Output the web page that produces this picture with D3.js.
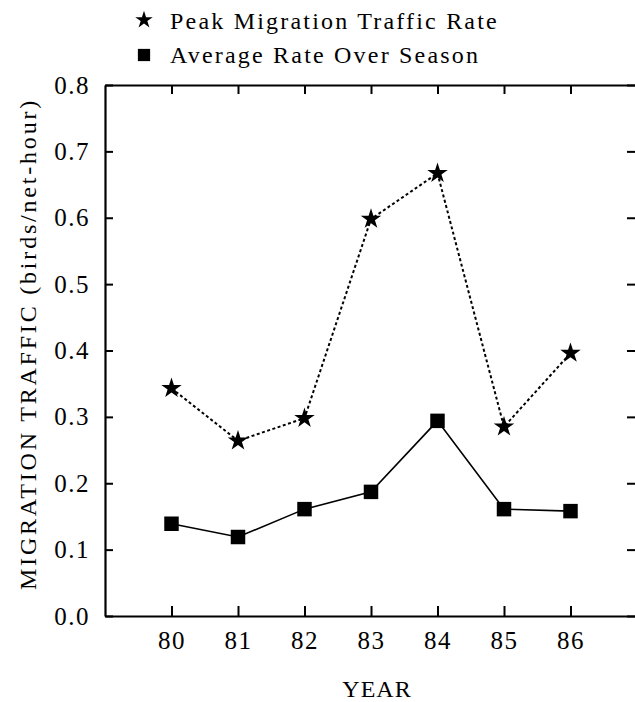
<!DOCTYPE html>
<html>
<head>
<meta charset="utf-8">
<script src="https://cdn.jsdelivr.net/npm/d3@7"></script>
<style>
  body { margin: 0; background: #fff; }
  text { font-family: "Liberation Serif", "DejaVu Serif", serif; fill: #000; }
</style>
</head>
<body>
<div id="chart"></div>
<script>
// chart data
var years = [80, 81, 82, 83, 84, 85, 86]
var peakRate = [0.343, 0.264, 0.298, 0.598, 0.667, 0.285, 0.396]
var avgRate = [0.139, 0.119, 0.161, 0.187, 0.294, 0.161, 0.158]
var yTicks = [0, 0.1, 0.2, 0.3, 0.4, 0.5, 0.6, 0.7, 0.8]
var legendLabels = ["Peak Migration Traffic Rate", "Average Rate Over Season"]

function migrationChart() {

    var width = 635
    var height = 702
    var m = { left: 105, right: 637, top: 85, bottom: 616 }

    var svg = d3.select("#chart")
        .append("svg")
        .attr("width", width)
        .attr("height", height)

    var x = d3.scaleLinear().domain([79, 87]).range([m.left, m.right])
    var y = d3.scaleLinear().domain([0, 0.8]).range([m.bottom, m.top])

    function styleAxis(g) {
        g.selectAll(".domain").attr("stroke", "#000").attr("stroke-width", 2.2)
        g.selectAll(".tick line").attr("stroke", "#000").attr("stroke-width", 2)
        g.selectAll(".tick text")
            .attr("font-size", 25)
            .attr("letter-spacing", 1.5)
            .attr("font-family", "Liberation Serif, serif")
            .attr("fill", "#000")
    }

    // frame: four axes with inward ticks
    svg.append("g")
        .attr("transform", "translate(0," + m.bottom + ")")
        .call(d3.axisBottom(x).tickValues(years).tickSizeInner(-10).tickSizeOuter(0).tickPadding(15).tickFormat(d3.format("d")))
        .call(styleAxis)

    svg.append("g")
        .attr("transform", "translate(0," + m.top + ")")
        .call(d3.axisTop(x).tickValues(years).tickSizeInner(-9).tickSizeOuter(0).tickFormat(""))
        .call(styleAxis)

    svg.append("g")
        .attr("transform", "translate(" + m.left + ",0)")
        .call(d3.axisLeft(y).tickValues(yTicks).tickSizeInner(-8).tickSizeOuter(0).tickPadding(15).tickFormat(d3.format(".1f")))
        .call(styleAxis)

    svg.append("g")
        .attr("transform", "translate(" + m.right + ",0)")
        .call(d3.axisRight(y).tickValues(yTicks).tickSizeInner(-10).tickSizeOuter(0).tickFormat(""))
        .call(styleAxis)

    // lines
    var line = d3.line().x((d, i) => x(years[i])).y(d => y(d))

    svg.append("path")
        .datum(peakRate)
        .attr("d", line)
        .attr("fill", "none")
        .attr("stroke", "#000")
        .attr("stroke-width", 2)
        .attr("stroke-dasharray", "3,2.5")

    svg.append("path")
        .datum(avgRate)
        .attr("d", line)
        .attr("fill", "none")
        .attr("stroke", "#000")
        .attr("stroke-width", 1.6)

    var star = d3.symbol().type(d3.symbolStar).size(130)
    var square = d3.symbol().type(d3.symbolSquare).size(210)

    svg.append("g")
        .selectAll("path")
        .data(peakRate)
        .join("path")
        .attr("d", star)
        .attr("transform", (d, i) => "translate(" + x(years[i]) + "," + y(d) + ")")
        .attr("fill", "#000")

    svg.append("g")
        .selectAll("path")
        .data(avgRate)
        .join("path")
        .attr("d", square)
        .attr("transform", (d, i) => "translate(" + x(years[i]) + "," + y(d) + ")")
        .attr("fill", "#000")

    // legend
    var legend = svg.append("g")
    legend.append("path")
        .attr("d", d3.symbol().type(d3.symbolStar).size(95))
        .attr("transform", "translate(144,20)")
    legend.append("path")
        .attr("d", d3.symbol().type(d3.symbolSquare).size(150))
        .attr("transform", "translate(144,55)")
    legend.selectAll("text")
        .data(legendLabels)
        .join("text")
        .attr("x", 170)
        .attr("y", (d, i) => 29 + i * 34)
        .attr("font-size", 24)
        .attr("letter-spacing", 2.2)
        .text(d => d)

    // axis titles
    svg.append("text")
        .attr("x", 377)
        .attr("y", 697)
        .attr("text-anchor", "middle")
        .attr("font-size", 24)
        .attr("letter-spacing", 1)
        .text("YEAR")

    svg.append("text")
        .attr("transform", "translate(36,344) rotate(-90)")
        .attr("text-anchor", "middle")
        .attr("font-size", 24)
        .attr("letter-spacing", 2.8)
        .text("MIGRATION TRAFFIC (birds/net-hour)")
}
migrationChart()
</script>
</body>
</html>
